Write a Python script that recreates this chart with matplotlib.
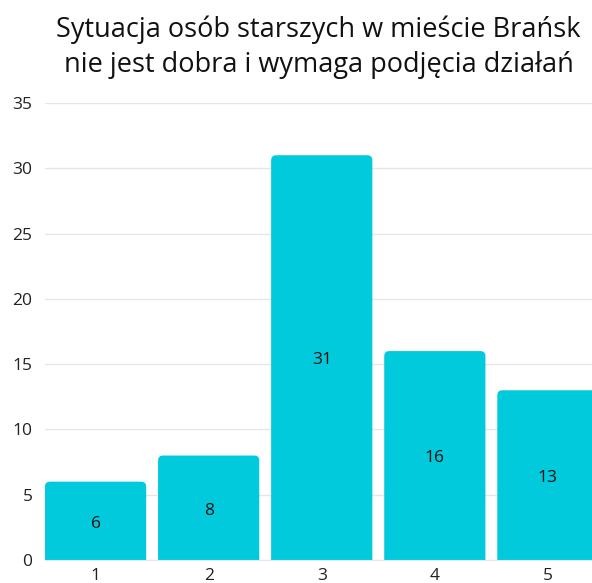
import matplotlib
matplotlib.use("Agg")
import matplotlib.pyplot as plt
from matplotlib.patches import FancyBboxPatch

categories = ["1", "2", "3", "4", "5"]
values = [6, 8, 31, 16, 13]
title = "Sytuacja osób starszych w mieście Brańsk\nnie jest dobra i wymaga podjęcia działań"
yticks = [0, 5, 10, 15, 20, 25, 30, 35]

plt.rcParams['font.family'] = ['Open Sans', 'DejaVu Sans']

W, H = 592, 583
fig = plt.figure(figsize=(W / 100, H / 100), dpi=100)
left, right, bottom, top = 45, 592, 560, 103
ax = fig.add_axes([left / W, (H - bottom) / H, (right - left) / W, (bottom - top) / H])

color = "#00CADC"
x = list(range(len(categories)))
bw = 0.895
bars = ax.bar(x, values, width=bw, color=color, zorder=2)

ax.set_ylim(0, 35)
ax.set_xlim(-bw / 2, 4.39)

# rounded bars
px_x = (right - left) / (4.39 + bw / 2)
px_y = (bottom - top) / 35
r_px = 5
rx = r_px / px_x
aspect = (r_px / px_y) / rx
for b in bars:
    b.set_visible(False)
    p = FancyBboxPatch((b.get_x(), -r_px / px_y), b.get_width(), b.get_height() + r_px / px_y,
                       boxstyle=f"round,pad=0,rounding_size={rx}", mutation_aspect=aspect,
                       facecolor=color, edgecolor="none", zorder=2)
    ax.add_patch(p)
    ax.annotate(str(int(b.get_height())), (b.get_x() + b.get_width() / 2, b.get_height() / 2),
                xytext=(0, -2), textcoords="offset points",
                ha="center", va="center", fontsize=12.5, color="#111111", zorder=3)

ax.set_yticks(yticks)
ax.set_xticks(x)
ax.set_xticklabels(categories)
ax.tick_params(axis="both", length=0, labelsize=12.5, labelcolor="#222222")
ax.tick_params(axis="y", pad=9)
ax.tick_params(axis="x", pad=5.5)
ax.grid(axis="y", color="#e6e6e6", linewidth=1, zorder=0)
for s in ["top", "right", "left"]:
    ax.spines[s].set_visible(False)
ax.spines["bottom"].set_color("#e6e6e6")
ax.set_axisbelow(True)

fig.text((left + right) / 2 / W, 1 - 47 / H, title, ha="center", va="center",
         fontsize=19.5, color="#111111", linespacing=1.32)

fig.savefig("out.png", dpi=100)
